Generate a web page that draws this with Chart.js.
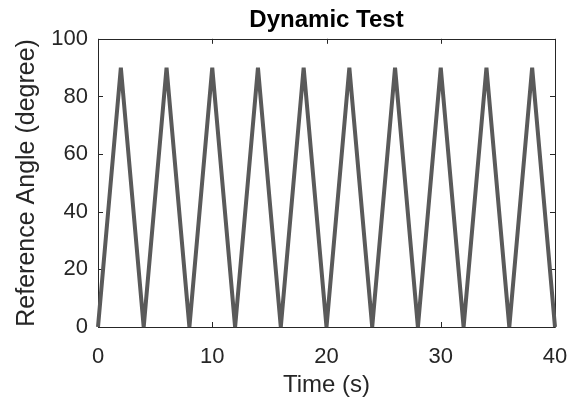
<!DOCTYPE html>
<html>
<head>
<meta charset="utf-8">
<script src="https://cdn.jsdelivr.net/npm/chart.js@4/dist/chart.umd.min.js"></script>
<style>
  html, body { margin: 0; padding: 0; background: #ffffff; }
  #wrap { width: 581px; height: 404px; position: relative; }
</style>
</head>
<body>
<div id="wrap"><canvas id="chart"></canvas></div>
<script>
// Time samples (s) at each corner of the triangle wave
const timeValues = [0, 2, 4, 6, 8, 10, 12, 14, 16, 18, 20, 22, 24, 26, 28, 30, 32, 34, 36, 38, 40];
// Reference angle (degree) at each corner
const angleValues = [0, 90, 0, 90, 0, 90, 0, 90, 0, 90, 0, 90, 0, 90, 0, 90, 0, 90, 0, 90, 0];
const xTicks = [0, 10, 20, 30, 40];
const yTicks = [0, 20, 40, 60, 80, 100];

const AXIS_COLOR = "#262626";
const LINE_COLOR = "#5a5a5a";
const FONT = "'Liberation Sans', Arial, Helvetica, sans-serif";

// MATLAB style box with inward ticks on all four sides
const boxPlugin = {
  id: "matlabBox",
  beforeDatasetsDraw(chart) {
    const { ctx, chartArea: a, scales } = chart;
    const len = 5;
    ctx.save();
    ctx.strokeStyle = AXIS_COLOR;
    ctx.lineWidth = 1;
    ctx.beginPath();
    ctx.rect(Math.round(a.left) + 0.5, Math.round(a.top) + 0.5,
      Math.round(a.right - a.left), Math.round(a.bottom - a.top));
    xTicks.forEach((v) => {
      const px = Math.round(scales.x.getPixelForValue(v)) + 0.5;
      ctx.moveTo(px, a.bottom);
      ctx.lineTo(px, a.bottom - len);
      ctx.moveTo(px, a.top);
      ctx.lineTo(px, a.top + len);
    });
    yTicks.forEach((v) => {
      const py = Math.round(scales.y.getPixelForValue(v)) + 0.5;
      ctx.moveTo(a.left, py);
      ctx.lineTo(a.left + len, py);
      ctx.moveTo(a.right, py);
      ctx.lineTo(a.right - len, py);
    });
    ctx.stroke();
    ctx.restore();
  },
};

const points = timeValues.map((t, i) => ({ x: t, y: angleValues[i] }));

new Chart(document.getElementById("chart"), {
  type: "line",
  data: {
    datasets: [
      {
        data: points,
        borderColor: LINE_COLOR,
        borderWidth: 4,
        pointRadius: 0,
        tension: 0,
        fill: false,
        clip: false,
      },
    ],
  },
  options: {
    responsive: true,
    maintainAspectRatio: false,
    animation: false,
    events: [],
    layout: { padding: { left: 0, right: 26, top: 0, bottom: 0 } },
    plugins: {
      legend: { display: false },
      tooltip: { enabled: false },
      title: {
        display: true,
        text: "Dynamic Test",
        fullSize: false,
        color: "#000000",
        font: { family: FONT, size: 24, weight: "bold" },
        padding: { top: 6, bottom: 4 },
      },
    },
    scales: {
      x: {
        type: "linear",
        min: 0,
        max: 40,
        afterFit: (s) => {
          s.height = 77;
          s.paddingLeft = 0;
          s.paddingRight = 0;
        },
        afterBuildTicks: (s) => { s.ticks = xTicks.map((v) => ({ value: v })); },
        border: { display: false },
        grid: { display: false, drawTicks: false },
        ticks: {
          color: AXIS_COLOR,
          padding: 17,
          maxRotation: 0,
          font: { family: FONT, size: 22 },
        },
        title: {
          display: true,
          text: "Time (s)",
          color: AXIS_COLOR,
          font: { family: FONT, size: 24 },
          padding: { top: 0, bottom: 4 },
        },
      },
      y: {
        min: 0,
        max: 100,
        afterFit: (s) => {
          s.width = 98;
          s.paddingTop = 0;
          s.paddingBottom = 0;
        },
        afterBuildTicks: (s) => { s.ticks = yTicks.map((v) => ({ value: v })); },
        border: { display: false },
        grid: { display: false, drawTicks: false },
        ticks: {
          color: AXIS_COLOR,
          padding: 10,
          font: { family: FONT, size: 22 },
        },
        title: {
          display: true,
          text: "Reference Angle (degree)",
          color: AXIS_COLOR,
          font: { family: FONT, size: 25 },
          padding: { top: 12, bottom: 0 },
        },
      },
    },
  },
  plugins: [boxPlugin],
});
</script>
</body>
</html>
